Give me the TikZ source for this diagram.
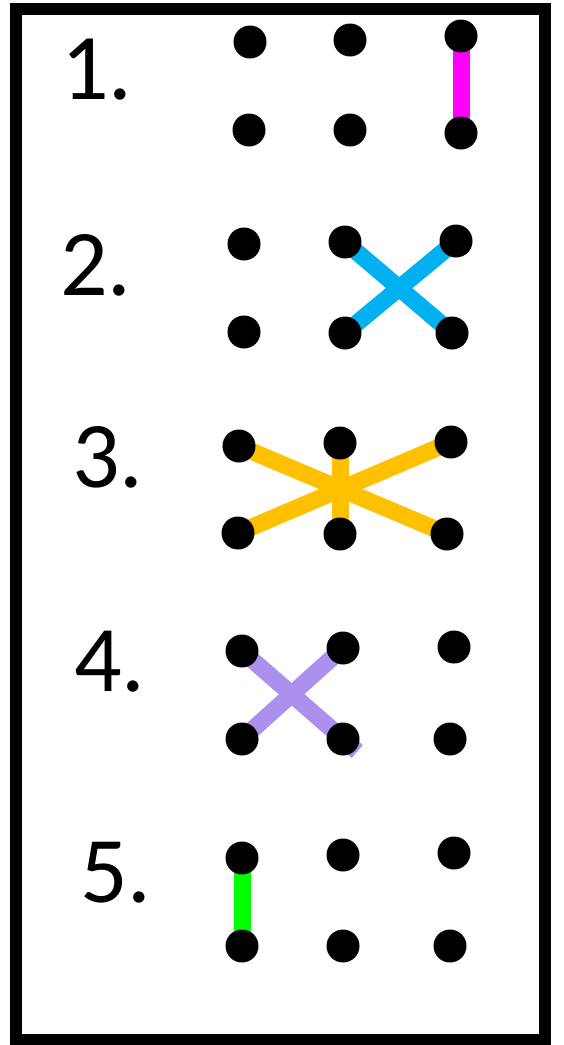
\documentclass[tikz,border=0pt]{standalone}
\usepackage{fontspec}
\setmainfont{Carlito}
\usetikzlibrary{backgrounds}
\definecolor{cmag}{HTML}{FF00FF}
\definecolor{cblue}{HTML}{00B0F0}
\definecolor{cyel}{HTML}{FFC000}
\definecolor{cpur}{HTML}{AB90EE}
\definecolor{cgrn}{HTML}{00FF00}
\begin{document}
\begin{tikzpicture}[x=1pt,y=-1pt,
  dotnode/.style={circle,fill=black,minimum size=33pt,inner sep=0pt},
  numlabel/.style={inner sep=0pt,font=\fontsize{94}{98}\selectfont},
  link/.style={line width=17pt}]
\useasboundingbox (0,0) rectangle (563,1045);
\draw[line width=12pt] (16,9) rectangle (545,1040);
% labels
\node[numlabel] (l1) at (97,70) {1.};
\node[numlabel] (l2) at (96,265) {2.};
\node[numlabel] (l3) at (108,457) {3.};
\node[numlabel] (l4) at (110,662) {4.};
\node[numlabel] (l5) at (116,873) {5.};
% row 1
\node[dotnode] (a1) at (250,42) {};
\node[dotnode] (a2) at (350,40) {};
\node[dotnode] (a3) at (461,36) {};
\node[dotnode] (a4) at (249,130) {};
\node[dotnode] (a5) at (350,130) {};
\node[dotnode] (a6) at (461,133) {};
% row 2
\node[dotnode] (b1) at (244,244) {};
\node[dotnode] (b2) at (345,242) {};
\node[dotnode] (b3) at (456,241) {};
\node[dotnode] (b4) at (244,332) {};
\node[dotnode] (b5) at (345,333) {};
\node[dotnode] (b6) at (452,333) {};
% row 3
\node[dotnode] (c1) at (239,446) {};
\node[dotnode] (c2) at (340,443) {};
\node[dotnode] (c3) at (451,442) {};
\node[dotnode] (c4) at (238,533) {};
\node[dotnode] (c5) at (340,534) {};
\node[dotnode] (c6) at (447,534) {};
% row 4
\node[dotnode] (d1) at (242,651) {};
\node[dotnode] (d2) at (343,648) {};
\node[dotnode] (d3) at (454,647) {};
\node[dotnode] (d4) at (242,739) {};
\node[dotnode] (d5) at (343,739) {};
\node[dotnode] (d6) at (450,739) {};
% row 5
\node[dotnode] (e1) at (242,858) {};
\node[dotnode] (e2) at (343,855) {};
\node[dotnode] (e3) at (454,853) {};
\node[dotnode] (e4) at (242,946) {};
\node[dotnode] (e5) at (343,946) {};
\node[dotnode] (e6) at (450,946) {};
\begin{pgfonlayer}{background}
\draw[link,cmag] (a3.center) -- (a6.center);
\draw[link,cblue,shorten <=-4pt,shorten >=-2pt] (b2.center) -- (b6.center);
\draw[link,cblue,shorten <=-4pt,shorten >=-2pt] (b5.center) -- (b3.center);
\draw[link,cyel,shorten <=-15pt,shorten >=-14pt] (c1.center) -- (c6.center);
\draw[link,cyel] (c4.center) -- (c3.center);
\draw[link,cyel] (c2.center) -- (c5.center);
\draw[link,cpur,shorten >=-19pt] (d1.center) -- (d5.center);
\draw[link,cpur] (d4.center) -- (d2.center);
\draw[link,cgrn] (e1.center) -- (e4.center);
\end{pgfonlayer}
\end{tikzpicture}
\end{document}
